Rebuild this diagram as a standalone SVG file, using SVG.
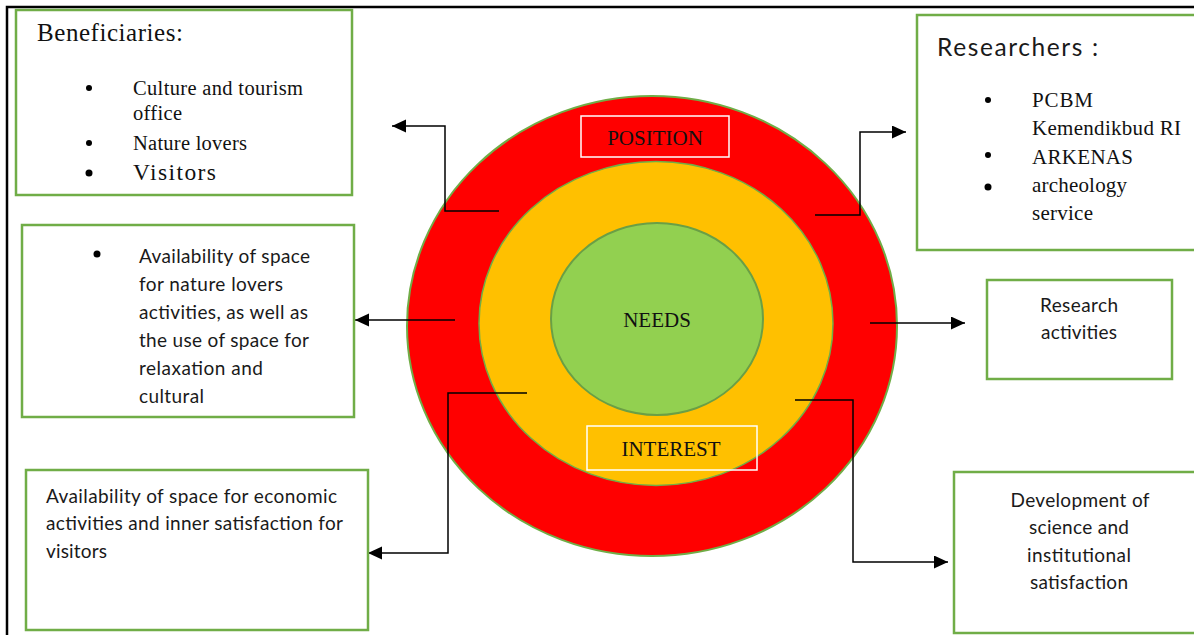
<svg xmlns="http://www.w3.org/2000/svg" width="1194" height="635" viewBox="0 0 1194 635">
<style>
.box{fill:#fff;stroke:#70AD47;stroke-width:2.5}
.lbl{fill:none;stroke:#fff;stroke-width:1.5}
.serif{font-family:"Liberation Serif","Times New Roman",serif;fill:#111}
.sans{font-family:Lato,"Open Sans","Liberation Sans",sans-serif;fill:#1a1a1a}
.conn{fill:none;stroke:#000;stroke-width:1.5}
</style>
<defs>
<marker id="arr" markerUnits="userSpaceOnUse" markerWidth="15" markerHeight="14" refX="14" refY="6.5" orient="auto">
<path d="M0,0 L14,6.5 L0,13 z" fill="#000"/>
</marker>
</defs>
<rect width="1194" height="635" fill="#fff"/>
<g id="page-border" fill="none" stroke="#000" stroke-width="2.5">
<path d="M7,640 V7 H1200"/>
</g>
<g id="circles">
<ellipse cx="652" cy="326" rx="245" ry="230" fill="#FF0000" stroke="#70AD47" stroke-width="2"/>
<ellipse cx="656" cy="323.5" rx="177" ry="162" fill="#FFC000" stroke="#70AD47" stroke-width="1.5"/>
<ellipse cx="657" cy="319" rx="106" ry="96" fill="#92D050" stroke="#6A9F45" stroke-width="2"/>
</g>
<g id="position">
<rect class="lbl" x="581" y="116" width="148" height="41"/>
<text class="serif" x="655" y="145" font-size="21" text-anchor="middle">POSITION</text>
</g>
<g id="needs">
<text class="serif" x="657" y="327" font-size="21" text-anchor="middle">NEEDS</text>
</g>
<g id="interest">
<rect class="lbl" x="587" y="426" width="170" height="44"/>
<text class="serif" x="671" y="456" font-size="21" text-anchor="middle">INTEREST</text>
</g>
<g id="connectors">
<path class="conn" d="M499,211 H445 V126 H392" marker-end="url(#arr)"/>
<path class="conn" d="M815,215 H860 V132 H906" marker-end="url(#arr)"/>
<path class="conn" d="M455,320 H355" marker-end="url(#arr)"/>
<path class="conn" d="M870,323 H965" marker-end="url(#arr)"/>
<path class="conn" d="M527,393 H448 V553 H368" marker-end="url(#arr)"/>
<path class="conn" d="M795,400 H853 V562 H948" marker-end="url(#arr)"/>
</g>
<g id="beneficiaries">
<rect class="box" x="16" y="10" width="336" height="185"/>
<text class="serif" x="37" y="41" font-size="25" textLength="146">Beneficiaries:</text>
<circle cx="89" cy="88" r="3"/>
<circle cx="89" cy="143" r="3"/>
<circle cx="89" cy="173" r="3.5"/>
<text class="serif" x="133" y="95" font-size="20.5" textLength="170">Culture and tourism</text>
<text class="serif" x="133" y="120" font-size="20.5" textLength="49">office</text>
<text class="serif" x="133" y="150" font-size="20.5" textLength="114">Nature lovers</text>
<text class="serif" x="133" y="180" font-size="23.5" textLength="83">Visitors</text>
</g>
<g id="researchers">
<rect class="box" x="917" y="15" width="290" height="235"/>
<text class="sans" x="937" y="56" font-size="24.5" textLength="161">Researchers :</text>
<circle cx="988" cy="100" r="3"/>
<circle cx="988" cy="155" r="3"/>
<circle cx="988" cy="187" r="3.5"/>
<text class="serif" x="1032" y="107" font-size="21" textLength="61">PCBM</text>
<text class="serif" x="1032" y="135" font-size="21" textLength="149">Kemendikbud RI</text>
<text class="serif" x="1032" y="164" font-size="21" textLength="101">ARKENAS</text>
<text class="serif" x="1032" y="192" font-size="21" textLength="95">archeology</text>
<text class="serif" x="1032" y="220" font-size="21" textLength="61">service</text>
</g>
<g id="space-nature">
<rect class="box" x="22" y="225" width="332" height="192"/>
<circle cx="97" cy="254" r="3.5"/>
<text class="sans" x="139" y="263" font-size="19" textLength="171">Availability of space</text>
<text class="sans" x="139" y="291" font-size="19" textLength="144">for nature lovers</text>
<text class="sans" x="139" y="319" font-size="19" textLength="169">activities, as well as</text>
<text class="sans" x="139" y="347" font-size="19" textLength="170">the use of space for</text>
<text class="sans" x="139" y="375" font-size="19" textLength="124">relaxation and</text>
<text class="sans" x="139" y="403" font-size="19" textLength="65">cultural</text>
</g>
<g id="space-economic">
<rect class="box" x="26" y="470" width="342" height="160"/>
<text class="sans" x="46" y="503" font-size="19" textLength="291">Availability of space for economic</text>
<text class="sans" x="46" y="530" font-size="19" textLength="297">activities and inner satisfaction for</text>
<text class="sans" x="46" y="558" font-size="19" textLength="61">visitors</text>
</g>
<g id="research-activities">
<rect class="box" x="987" y="280" width="185" height="99"/>
<text class="sans" x="1079" y="312" font-size="19" text-anchor="middle" textLength="78">Research</text>
<text class="sans" x="1079" y="339" font-size="19" text-anchor="middle" textLength="76">activities</text>
</g>
<g id="development">
<rect class="box" x="954" y="472" width="260" height="161"/>
<text class="sans" x="1080" y="507" font-size="19" text-anchor="middle" textLength="139">Development of</text>
<text class="sans" x="1079" y="534" font-size="19" text-anchor="middle" textLength="100">science and</text>
<text class="sans" x="1079" y="562" font-size="19" text-anchor="middle" textLength="104">institutional</text>
<text class="sans" x="1079" y="589" font-size="19" text-anchor="middle" textLength="98">satisfaction</text>
</g>
</svg>
